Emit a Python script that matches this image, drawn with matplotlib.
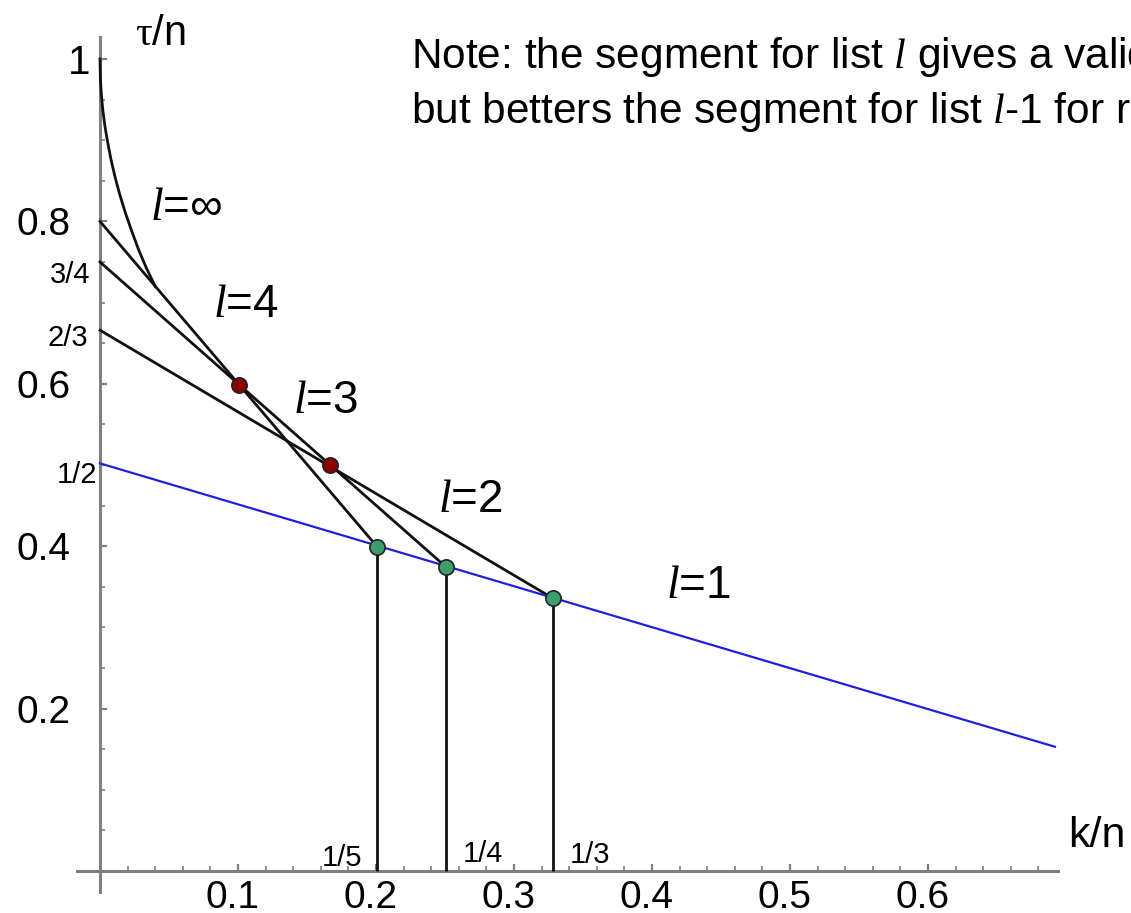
import numpy as np
import matplotlib
matplotlib.use("Agg")
import matplotlib.pyplot as plt
from matplotlib.ticker import FixedLocator
from matplotlib.transforms import ScaledTranslation

plt.rcParams['font.family'] = ['Liberation Sans', 'DejaVu Sans']
plt.rcParams['mathtext.fontset'] = 'custom'
plt.rcParams['mathtext.rm'] = 'Liberation Serif'
plt.rcParams['mathtext.it'] = 'Liberation Serif:italic'

# values (x = k/n, y = tau/n)
seg_start_y = [0.8, 0.75, 0.666]          # lists l=4, l=3, l=2 at k/n = 0
green_x = [0.201, 0.251, 0.328]           # 1/5, 1/4, 1/3
green_y = [0.399, 0.374, 0.336]
red_x = [0.101, 0.167]
red_y = [0.598, 0.5]
blue_x = [0.0, 0.692]                     # list l=1
blue_y = [0.502, 0.153]
curve_x = [0.0, 0.0003, 0.001, 0.002, 0.0035, 0.0055, 0.008, 0.011,
           0.0145, 0.0185, 0.023, 0.028, 0.0335, 0.040]
curve_y = [1.0, 0.975, 0.956, 0.938, 0.918, 0.898, 0.876, 0.854,
           0.832, 0.81, 0.788, 0.765, 0.743, 0.72]

x_ticks = [0.1, 0.2, 0.3, 0.4, 0.5, 0.6]
y_ticks = [0.2, 0.4, 0.6, 0.8, 1.0]
y_tick_labels = ['0.2', '0.4', '0.6', '0.8', '1']
y_frac_vals = [0.75, 0.666, 0.5]
y_frac_labels = ['3/4', '2/3', '1/2']
x_frac_labels = ['1/5', '1/4', '1/3']

line_labels = [r'$l$=∞', r'$l$=4', r'$l$=3', r'$l$=2', r'$l$=1']
line_label_pos = [(0.036, 0.802), (0.082, 0.682), (0.140, 0.564),
                  (0.245, 0.442), (0.410, 0.336)]

fig = plt.figure(figsize=(11.31, 9.13), dpi=100)
ax = fig.add_axes([0, 0, 1, 1])
ax.set_xlim(-100 / 1380, 1031 / 1380)
ax.set_ylim(-42 / 812, 871 / 812)

axis_gray = '#7f7f7f'
for side in ['top', 'right']:
    ax.spines[side].set_visible(False)
ax.spines['left'].set_position(('data', 0))
ax.spines['bottom'].set_position(('data', 0))
ax.spines['left'].set_bounds(-0.026, 1.027)
ax.spines['bottom'].set_bounds(-0.017, 0.694)
for side in ['left', 'bottom']:
    ax.spines[side].set_color(axis_gray)
    ax.spines[side].set_linewidth(2.2)
    ax.spines[side].set_zorder(1)

ax.xaxis.set_major_locator(FixedLocator(x_ticks))
ax.xaxis.set_minor_locator(FixedLocator(np.arange(0.02, 0.69, 0.02)))
ax.yaxis.set_major_locator(FixedLocator(y_ticks))
ax.yaxis.set_minor_locator(FixedLocator(np.arange(0.05, 1.0, 0.05)))
ax.set_xticklabels([f'{v:.1f}' for v in x_ticks])
ax.set_yticklabels(y_tick_labels)
ax.tick_params(which='both', direction='in', color=axis_gray)
ax.tick_params(which='major', length=5, width=1.6)
ax.tick_params(which='minor', length=3.5, width=1.2)
ax.tick_params(axis='x', labelsize=28, pad=6.5)
ax.tick_params(axis='y', labelsize=28, pad=21.5)

shift = ScaledTranslation(-5 / 100, 0, fig.dpi_scale_trans)
for t in ax.xaxis.get_major_ticks():
    t.label1.set_transform(t.label1.get_transform() + shift)
top_tick = ax.yaxis.get_major_ticks()[-1]
top_tick.set_pad(7)
top_tick.label1.set_fontsize(29)

# segments for lists l=4, 3, 2
for y0, gx, gy in zip(seg_start_y, green_x, green_y):
    ax.plot([0, gx], [y0, gy], color='#111111', lw=2.0, zorder=3)
ax.plot(curve_x, curve_y, color='#111111', lw=2.0, zorder=3)
ax.plot(blue_x, blue_y, color='#1f1fe0', lw=1.6, zorder=3)
ax.vlines(green_x, 0, green_y, color='#111111', lw=2.0, zorder=3)

ax.plot(red_x, red_y, 'o', ms=11, mfc='#8b0000', mec='#222222', mew=1.2, zorder=5)
ax.plot(green_x, green_y, 'o', ms=11, mfc='#3d9d6d', mec='#222222', mew=1.2, zorder=5)

for lab, (lx, ly) in zip(line_labels, line_label_pos):
    ax.text(lx, ly, lab, fontsize=33, ha='left', va='baseline')

# fractional tick annotations
y_frac_offsets = [(-10, -13), (-12, -8), (-3, -10)]
for v, lab, off in zip(y_frac_vals, y_frac_labels, y_frac_offsets):
    ax.annotate(lab, (0, v), xytext=off, textcoords='offset pixels',
                fontsize=21, ha='right', va='center')
x_frac_offsets = [(-35, 13), (37, 17), (37, 16)]
for v, lab, off in zip(green_x, x_frac_labels, x_frac_offsets):
    ax.annotate(lab, (v, 0), xytext=off, textcoords='offset pixels',
                fontsize=21, ha='center', va='center')

ax.text(0.0254, 1.017, r'$\mathrm{\tau}$/n', fontsize=30, ha='left', va='baseline')
ax.text(0.7428, 0.0296, 'k/n', fontsize=31, ha='right', va='baseline')

ax.text(0.2254, 0.989, r'Note: the segment for list $l$ gives a valid',
        fontsize=30.5, ha='left', va='baseline')
ax.text(0.2254, 0.921, r'but betters the segment for list $l$-1 for r',
        fontsize=30.5, ha='left', va='baseline')

fig.savefig('out.png', dpi=100)
